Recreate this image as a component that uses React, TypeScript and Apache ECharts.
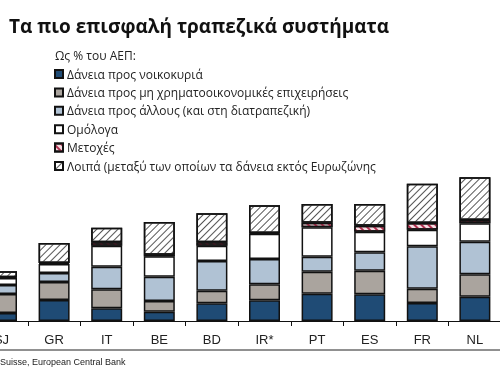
import React, { useEffect, useRef } from "react";
import * as echarts from "echarts";

const categories = ["SJ", "GR", "IT", "BE", "BD", "IR*", "PT", "ES", "FR", "NL"];
const households = [24, 63, 38, 28, 53, 62, 82, 80, 54, 73];
const nonFinancial = [57, 54, 57, 32, 38, 48, 66, 71, 43, 67];
const otherLoans = [27, 27, 68, 73, 89, 76, 45, 55, 127, 98];
const bonds = [21, 27, 63, 61, 46, 76, 88, 62, 50, 55];
const equities = [2, 3, 10, 5, 10, 2, 14, 18, 20, 10];
const others = [18, 60, 44, 98, 87, 83, 56, 65, 118, 128];

const seriesNames = [
  "Δάνεια προς νοικοκυριά",
  "Δάνεια προς μη χρηματοοικονομικές επιχειρήσεις",
  "Δάνεια προς άλλους (και στη διατραπεζική)",
  "Ομόλογα",
  "Μετοχές",
  "Λοιπά (μεταξύ των οποίων τα δάνεια εκτός Ευρωζώνης",
];

export default function App() {
  const ref = useRef<HTMLDivElement>(null);
  useEffect(() => {
    const chart = echarts.init(ref.current!, undefined, { renderer: "svg" });
    const border = { borderColor: "#111", borderWidth: 1.5 };
    const mk = (name: string, data: number[], itemStyle: any) => ({
      name,
      type: "bar",
      stack: "total",
      barWidth: 31,
      data,
      itemStyle: { ...border, ...itemStyle },
    });
    chart.setOption({
      animation: false,
      title: {
        text: "Τα πιο επισφαλή τραπεζικά συστήματα",
        left: 4,
        top: 11,
        textStyle: { fontFamily: "Open Sans", fontWeight: "bold", fontSize: 19, color: "#111" },
      },
      graphic: [
        {
          type: "text",
          left: 55,
          top: 49,
          style: { text: "Ως % του ΑΕΠ:", font: "12px 'Open Sans'", fill: "#222" },
        },
        {
          type: "line",
          shape: { x1: 0, y1: 350, x2: 500, y2: 350 },
          style: { stroke: "#222", lineWidth: 1 },
        },
        {
          type: "text",
          left: 0,
          top: 357,
          style: { text: "Suisse, European Central Bank", font: "9px 'Liberation Sans'", fill: "#222" },
        },
      ],
      legend: {
        orient: "vertical",
        left: 54,
        top: 67,
        padding: 0,
        itemWidth: 8,
        itemHeight: 8,
        itemGap: 4.4,
        icon: "rect",
        data: seriesNames,
        textStyle: { fontFamily: "Open Sans", fontSize: 12, color: "#222", lineHeight: 14, padding: [0, 0, 0, -1] },
      },
      grid: { left: -24.8, right: -1.2, top: 121, bottom: 53, outerBoundsMode: "none", containLabel: false },
      xAxis: {
        type: "category",
        data: categories,
        axisLine: { lineStyle: { color: "#111", width: 1 } },
        axisTick: { show: true, length: 5, lineStyle: { color: "#111" } },
        axisLabel: { fontFamily: "Liberation Sans", fontSize: 13, color: "#222", margin: 12 },
      },
      yAxis: { type: "value", min: 0, max: 600, show: false, splitLine: { show: false } },
      series: [
        mk(seriesNames[0], households, { color: "#1f4b75" }),
        mk(seriesNames[1], nonFinancial, { color: "#aaa49e" }),
        mk(seriesNames[2], otherLoans, { color: "#b0c2d4" }),
        mk(seriesNames[3], bonds, { color: "#ffffff" }),
        mk(seriesNames[4], equities, {
          color: "#f6dde2",
          decal: { symbol: "rect", symbolSize: 1, dashArrayX: [1, 0], dashArrayY: [2, 2.5], rotation: Math.PI / 4, color: "#b0304f" },
        }),
        mk(seriesNames[5], others, {
          color: "#ffffff",
          decal: { symbol: "rect", symbolSize: 1, dashArrayX: [1, 0], dashArrayY: [1, 3.2], rotation: -Math.PI / 4, color: "#555" },
        }),
      ],
    });
    return () => chart.dispose();
  }, []);
  return <div ref={ref} style={{ position: "fixed", left: 0, top: 0, width: 500, height: 374 }} />;
}
